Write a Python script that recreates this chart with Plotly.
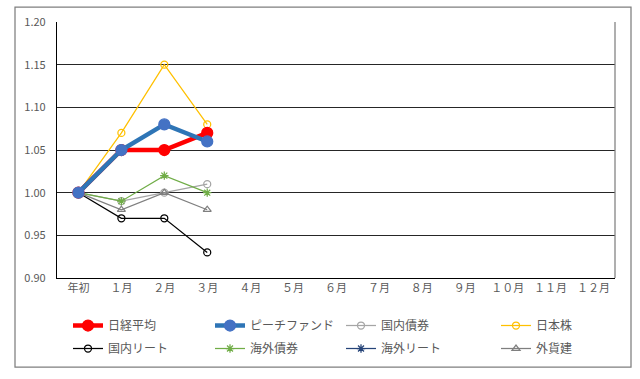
import plotly.graph_objects as go

categories = ["年初", "１月", "２月", "３月", "４月", "５月", "６月", "７月", "８月", "９月", "１０月", "１１月", "１２月"]

nikkei = [1.00, 1.05, 1.05, 1.07]
peach = [1.00, 1.05, 1.08, 1.06]
kokunai_saiken = [1.00, 0.99, 1.00, 1.01]
nihon_kabu = [1.00, 1.07, 1.15, 1.08]
kokunai_reit = [1.00, 0.97, 0.97, 0.93]
kaigai_saiken = [1.00, 0.99, 1.02, 1.00]
kaigai_reit = [1.00]
gaika = [1.00, 0.98, 1.00, 0.98]

FONT = "Noto Sans CJK JP, Noto Sans, sans-serif"
TXT = "#595959"

series = [
    ("日経平均", nikkei, "#FF0000", "#FF0000", 4.5, "circle", 11, "legend"),
    ("国内リート", kokunai_reit, "#000000", "#000000", 1.25, "circle-open", 7, "legend"),
    ("ピーチファンド", peach, "#2E75B6", "#4472C4", 4.5, "circle", 11, "legend2"),
    ("海外債券", kaigai_saiken, "#70AD47", "#70AD47", 1.25, "asterisk-open", 7, "legend2"),
    ("国内債券", kokunai_saiken, "#A5A5A5", "#A5A5A5", 1.25, "circle-open", 7, "legend3"),
    ("海外リート", kaigai_reit, "#264478", "#264478", 1.25, "asterisk-open", 7, "legend3"),
    ("日本株", nihon_kabu, "#FFC000", "#FFC000", 1.25, "circle-open", 7, "legend4"),
    ("外貨建", gaika, "#7F7F7F", "#7F7F7F", 1.25, "triangle-up-open", 7, "legend4"),
]

draw_order = ["国内債券", "日本株", "国内リート", "海外債券", "海外リート", "外貨建", "日経平均", "ピーチファンド"]

fig = go.Figure()
for name in draw_order:
    for (n, vals, lc, mc, lw, sym, ms, lg) in series:
        if n != name:
            continue
        fig.add_trace(go.Scatter(
            x=categories[:len(vals)], y=vals, name=n, mode="lines+markers",
            line=dict(color=lc, width=lw),
            marker=dict(color=mc, symbol=sym, size=ms, line=dict(color=mc, width=1.25)),
            legend=lg, legendgroup=n, legendrank=[s[0] for s in series].index(n),
        ))

L, R, T, B = 57, 25, 22, 101
W, H = 640, 379
pw = W - L - R
ph = H - T - B

def px2x(p):
    return (p - L) / pw

def px2y(p):
    return (H - B - p) / ph

leg_common = dict(orientation="v", xanchor="left", yanchor="top", bgcolor="rgba(0,0,0,0)",
                  font=dict(family=FONT, size=12, color=TXT), tracegroupgap=4,
                  itemclick=False, itemdoubleclick=False)
leg_top = px2y(311)

fig.update_layout(
    width=W, height=H,
    margin=dict(l=L, r=R, t=T, b=B, autoexpand=False),
    paper_bgcolor="white", plot_bgcolor="white",
    font=dict(family=FONT, color=TXT, size=11),
    showlegend=True,
    legend=dict(x=px2x(68), y=leg_top, **leg_common),
    legend2=dict(x=px2x(210), y=leg_top, **leg_common),
    legend3=dict(x=px2x(341), y=leg_top, **leg_common),
    legend4=dict(x=px2x(496), y=leg_top, **leg_common),
    xaxis=dict(type="category", categoryorder="array", categoryarray=categories,
               range=[-0.5, len(categories) - 0.5], showgrid=False,
               showline=True, linecolor="#000000", linewidth=1.25,
               ticks="", automargin=False, tickfont=dict(family=FONT, size=11, color=TXT)),
    yaxis=dict(range=[0.90, 1.20], dtick=0.05, tick0=0.90, tickformat=".2f",
               showgrid=True, gridcolor="#262626", gridwidth=1,
               showline=True, linecolor="#000000", linewidth=1.25,
               zeroline=False, ticks="", ticklabelstandoff=8, automargin=False,
               tickfont=dict(family=FONT, size=11, color=TXT)),
    shapes=[
        dict(type="line", xref="paper", yref="paper", x0=1, x1=1, y0=0, y1=1,
             line=dict(color="#7F7F7F", width=1.25)),
        dict(type="rect", xref="paper", yref="paper",
             x0=px2x(15), x1=px2x(631), y0=px2y(367), y1=px2y(7),
             line=dict(color="#7F7F7F", width=1.25), layer="below"),
    ],
)

fig.write_html("out.html", config={"displayModeBar": False},
               post_script="document.body.style.margin='0';")
